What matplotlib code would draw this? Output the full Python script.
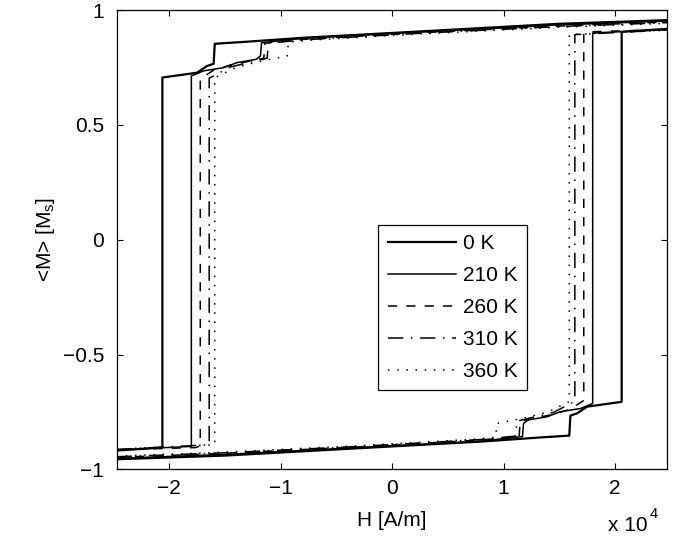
import matplotlib
matplotlib.use("Agg")
import matplotlib.pyplot as plt
import numpy as np

plt.rcParams['font.family'] = ['Liberation Sans', 'DejaVu Sans']
plt.rcParams['mathtext.fontset'] = 'custom'
plt.rcParams['mathtext.rm'] = 'Liberation Sans'
plt.rcParams['mathtext.it'] = 'Liberation Sans:italic'

# ascending branch of each loop, H in units of 1e4 A/m, M in units of Ms
# (descending branch is the point-mirrored copy)
labels = ['0 K', '210 K', '260 K', '310 K', '360 K']

H_0K = [-2.47, -1.50, -0.30, 0.80, 1.30, 1.59, 1.60, 1.66, 1.75, 2.06, 2.06, 2.47]
M_0K = [-0.956, -0.940, -0.908, -0.879, -0.862, -0.853, -0.766, -0.756, -0.727, -0.706, 0.905, 0.918]

H_210K = [-2.47, -1.50, -0.30, 0.80, 1.17, 1.18, 1.22, 1.39, 1.51, 1.69, 1.80, 1.80, 2.47]
M_210K = [-0.952, -0.935, -0.905, -0.877, -0.857, -0.800, -0.785, -0.771, -0.749, -0.735, -0.713, 0.900, 0.915]

H_260K = [-2.47, -1.50, -0.30, 0.80, 1.14, 1.15, 1.25, 1.45, 1.60, 1.72, 1.72, 1.76, 2.47]
M_260K = [-0.948, -0.930, -0.902, -0.872, -0.856, -0.790, -0.780, -0.760, -0.738, -0.700, 0.897, 0.905, 0.915]

H_310K = [-2.47, -1.50, -0.30, 0.80, 1.11, 1.12, 1.25, 1.45, 1.64, 1.64, 2.47]
M_310K = [-0.945, -0.928, -0.900, -0.870, -0.855, -0.790, -0.775, -0.752, -0.703, 0.893, 0.913]

H_360K = [-2.47, -1.50, -0.30, 0.70, 0.93, 0.94, 1.20, 1.40, 1.59, 1.59, 2.47]
M_360K = [-0.942, -0.925, -0.897, -0.870, -0.860, -0.800, -0.775, -0.750, -0.705, 0.893, 0.912]

x_ticks = [-2, -1, 0, 1, 2]
y_ticks = [-1, -0.5, 0, 0.5, 1]

H_all = [H_0K, H_210K, H_260K, H_310K, H_360K]
M_all = [M_0K, M_210K, M_260K, M_310K, M_360K]
styles = [
    dict(linestyle='-', lw=1.6),
    dict(linestyle='-', lw=1.1),
    dict(linestyle=(0, (6, 6)), lw=1.1),
    dict(linestyle=(0, (10, 5, 1, 5)), lw=1.1),
    dict(linestyle=(0, (1, 5)), lw=1.1),
]

fig = plt.figure(figsize=(6.81, 5.41), dpi=100)
ax = fig.add_axes([0.1713, 0.1324, 0.8087, 0.8491])

for H, M, lab, st in zip(H_all, M_all, labels, styles):
    Ha = np.array(H)
    Ma = np.array(M)
    Hd = -Ha[::-1]
    Md = -Ma[::-1]
    hh = np.concatenate([Hd, [np.nan], Ha])
    mm = np.concatenate([Md, [np.nan], Ma])
    ax.plot(hh, mm, color='black', label=lab, **st)

ax.set_xlim(-2.47, 2.47)
ax.set_ylim(-1, 1)
ax.set_xticks(x_ticks)
ax.set_yticks(y_ticks)
ax.set_xticklabels(['\u2212%d' % -t if t < 0 else '%d' % t for t in x_ticks])
ax.set_yticklabels(['\u22121', '\u22120.5', '0', '0.5', '1'])
ax.tick_params(direction='in', length=4, width=0.8, top=True, right=True,
               labelsize=15, colors='black')
ax.tick_params(axis='x', pad=7)
ax.tick_params(axis='y', pad=9)
for s in ax.spines.values():
    s.set_linewidth(0.9)

ax.set_xlabel('H [A/m]', fontsize=15, labelpad=9)
ax.set_ylabel(r'<M> [M$_\mathrm{s}$]', fontsize=15, labelpad=4)

fig.text(608 / 681, 1 - 531 / 541, 'x 10', fontsize=15, ha='left', va='baseline')
fig.text(650 / 681, 1 - 518 / 541, '4', fontsize=10.5, ha='left', va='baseline')

leg = ax.legend(loc='upper left', bbox_to_anchor=(0.475, 0.532), borderaxespad=0,
                fontsize=15, handlelength=3.3, handletextpad=0.3,
                labelspacing=0.62, borderpad=0.45, fancybox=False,
                framealpha=1, edgecolor='black')
leg.get_frame().set_linewidth(0.9)

fig.savefig('out.png', dpi=100)
